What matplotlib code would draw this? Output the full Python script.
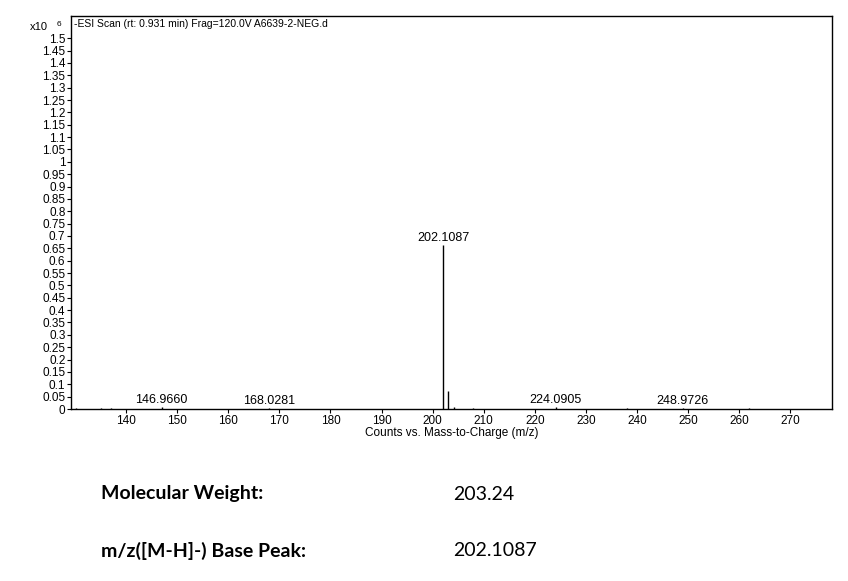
import numpy as np
import matplotlib
matplotlib.use("Agg")
from matplotlib import pyplot as plt
from matplotlib.ticker import FormatStrFormatter

# peak list (m/z, intensity in units of 1e6 counts)
mz = [130.1, 135.0, 137.0, 146.9660, 168.0281, 202.1087, 203.112, 204.11,
      208.0, 224.0905, 238.0, 248.9726, 262.0]
intensity = [0.006, 0.006, 0.004, 0.010, 0.006, 0.664, 0.072, 0.010,
             0.004, 0.010, 0.006, 0.006, 0.004]
labelled = [146.9660, 168.0281, 202.1087, 224.0905, 248.9726]

x_ticks = list(range(140, 280, 10))
y_ticks = [round(0.05 * i, 2) for i in range(31)]

info_labels = ["Molecular Weight:", "m/z([M-H]-) Base Peak:"]
info_values = ["203.24", "202.1087"]

plt.rcParams['font.family'] = ['Liberation Sans', 'DejaVu Sans']

fig = plt.figure(figsize=(8.48, 5.81), dpi=100)
ax = fig.add_axes([71 / 848, 172 / 581, 761 / 848, 393 / 581])

ax.vlines(mz, 0, intensity, colors='black', linewidth=1.0)
for m, h in zip(mz, intensity):
    if m in labelled:
        ax.text(m, h + 0.003, "%.4f" % m, ha='center', va='bottom', fontsize=9)

ax.set_xlim(129.2, 278.2)
ax.set_ylim(0, 1.59)
ax.set_xticks(x_ticks)
ax.set_yticks(y_ticks)
ax.yaxis.set_major_formatter(FormatStrFormatter('%g'))
ax.tick_params(axis='both', labelsize=8.5, length=3, width=0.8, pad=1)
for s in ax.spines.values():
    s.set_linewidth(1.0)

ax.set_xlabel("Counts vs. Mass-to-Charge (m/z)", fontsize=8.5, labelpad=0)
ax.text(0.004, 0.992, "-ESI Scan (rt: 0.931 min) Frag=120.0V A6639-2-NEG.d",
        transform=ax.transAxes, ha='left', va='top', fontsize=7.5)
fig.text(30 / 848, 1 - 27 / 581, "x10", fontsize=8, ha='left', va='center')
fig.text(57 / 848, 1 - 24 / 581, "6", fontsize=6, ha='left', va='center')

for i, (lab, val) in enumerate(zip(info_labels, info_values)):
    y = 1 - (494 + 57 * i) / 581
    fig.text(101 / 848, y, lab, fontsize=14, fontweight='bold', family=['Lato', 'DejaVu Sans'], va='center')
    fig.text(453 / 848, y, val, fontsize=14, family=['Lato', 'DejaVu Sans'], va='center')

fig.savefig("out.png", dpi=100)
